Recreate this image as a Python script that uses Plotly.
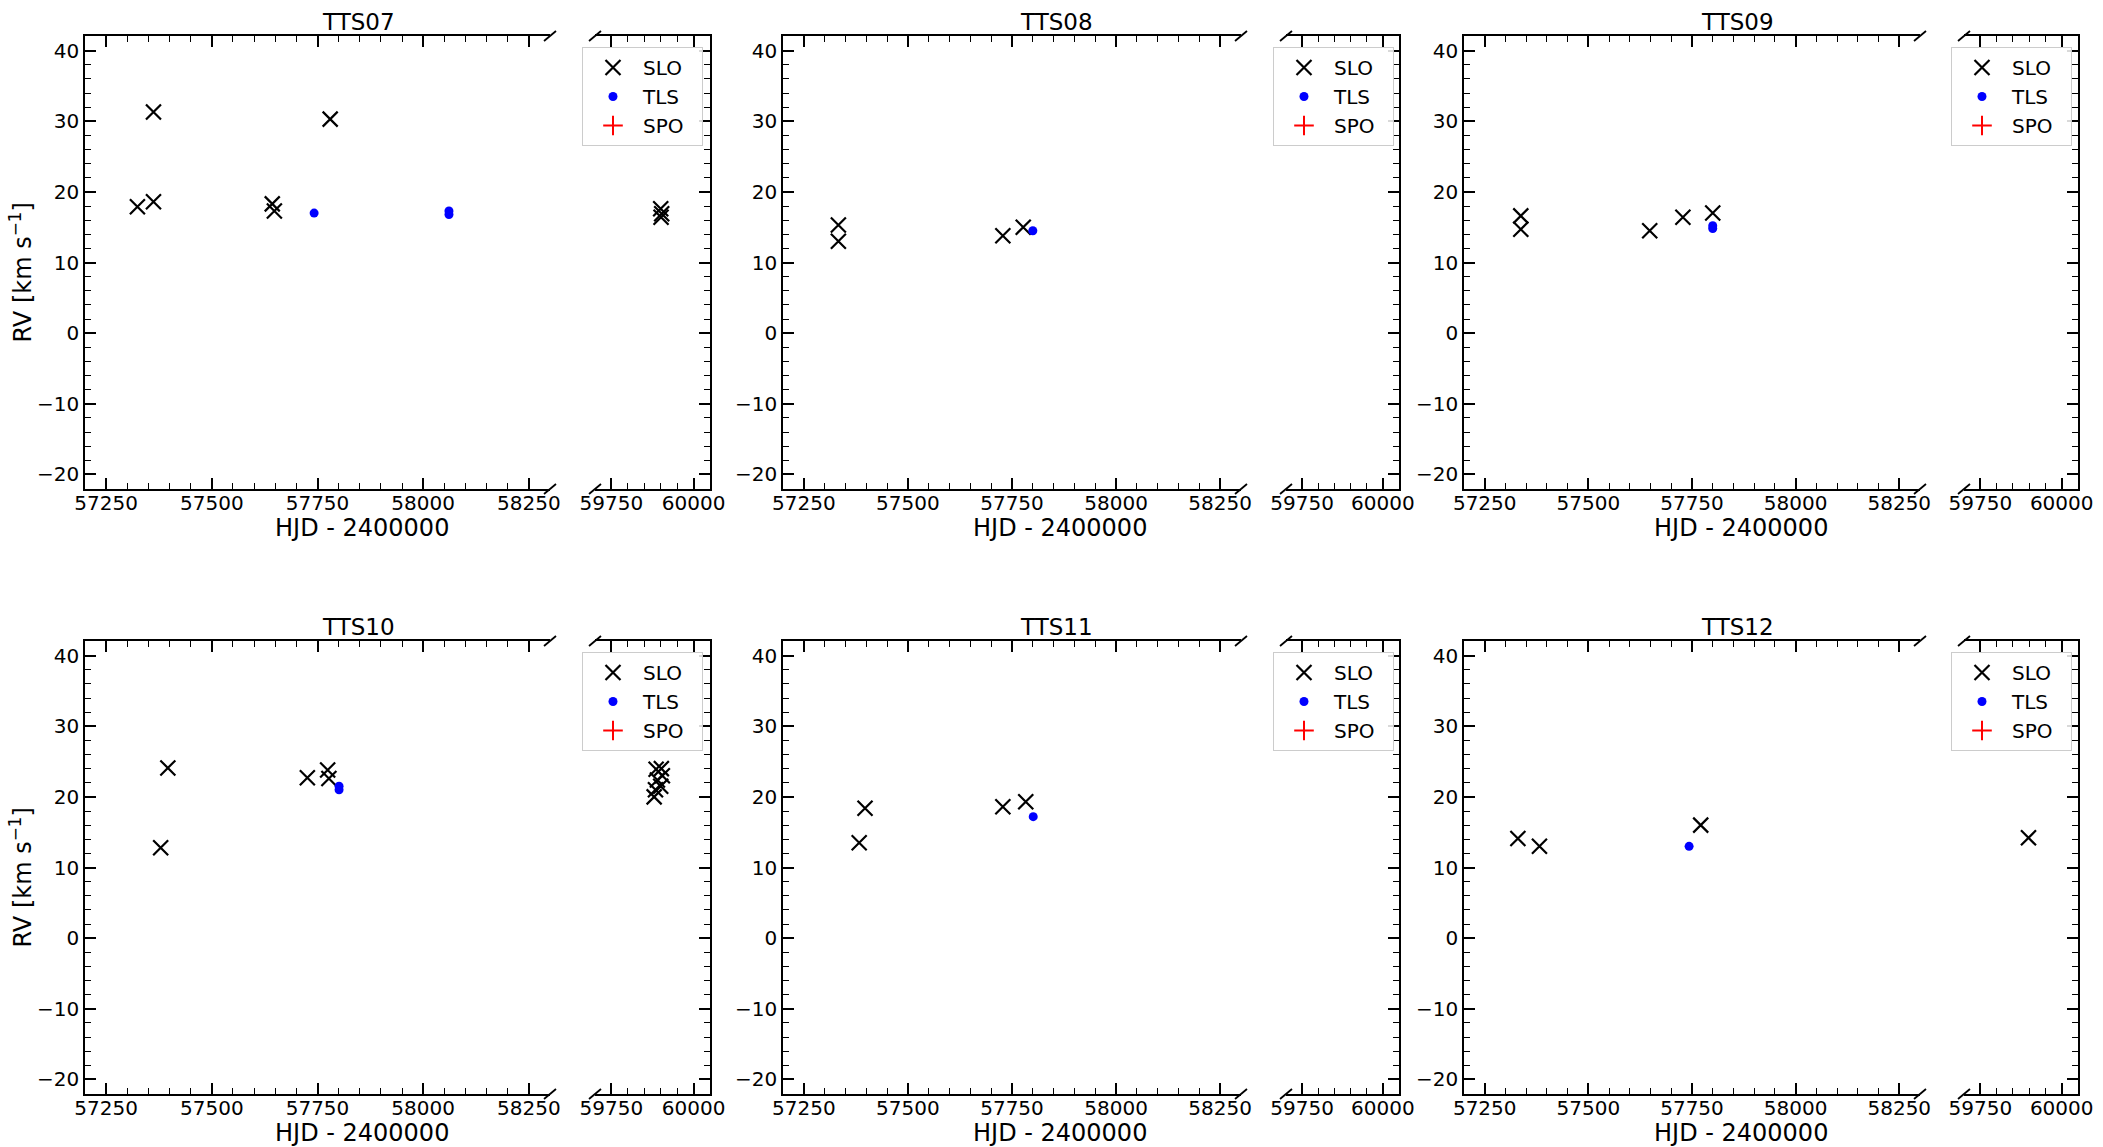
import plotly.graph_objects as go

# ---------------- data ----------------
STARS = ["TTS07", "TTS08", "TTS09", "TTS10", "TTS11", "TTS12"]

TTS07_SLO_HJD = [57324, 57362, 57362, 57643, 57648, 57780, 59900, 59903, 59901]
TTS07_SLO_RV = [17.9, 18.6, 31.3, 18.3, 17.3, 30.3, 17.6, 16.9, 16.4]
TTS07_TLS_HJD = [57742, 58061, 58061]
TTS07_TLS_RV = [17.0, 16.8, 17.3]

TTS08_SLO_HJD = [57333, 57333, 57728, 57777]
TTS08_SLO_RV = [15.3, 13.0, 13.8, 15.0]
TTS08_TLS_HJD = [57800]
TTS08_TLS_RV = [14.5]

TTS09_SLO_HJD = [57337, 57337, 57648, 57728, 57800]
TTS09_SLO_RV = [16.6, 14.7, 14.5, 16.4, 17.0]
TTS09_TLS_HJD = [57800, 57800]
TTS09_TLS_RV = [15.2, 14.8]

TTS10_SLO_HJD = [57379, 57396, 57726, 57774, 57777,
                 59880, 59884, 59890, 59886, 59902, 59905, 59900]
TTS10_SLO_RV = [12.8, 24.1, 22.7, 23.8, 22.6,
                20.0, 21.0, 22.4, 23.9, 24.0, 23.0, 21.5]
TTS10_TLS_HJD = [57801, 57801]
TTS10_TLS_RV = [21.0, 21.5]

TTS11_SLO_HJD = [57383, 57397, 57728, 57783]
TTS11_SLO_RV = [13.5, 18.4, 18.6, 19.3]
TTS11_TLS_HJD = [57801]
TTS11_TLS_RV = [17.2]

TTS12_SLO_HJD = [57330, 57382, 57771, 59898]
TTS12_SLO_RV = [14.1, 13.0, 16.0, 14.2]
TTS12_TLS_HJD = [57743]
TTS12_TLS_RV = [13.0]

# SPO has no measurements for these stars (legend entry only)
SPO_HJD = [None]
SPO_RV = [None]

LEGEND_NAMES = ["SLO", "TLS", "SPO"]

LEFT_RANGE = [57200, 58300]
RIGHT_RANGE = [59700, 60050]
Y_RANGE = [-22.07, 42.07]
X_TICK0_LEFT = 57250
X_TICK0_RIGHT = 59750
BREAK_HJD = 59000

SLO = {
    "TTS07": (TTS07_SLO_HJD, TTS07_SLO_RV), "TTS08": (TTS08_SLO_HJD, TTS08_SLO_RV),
    "TTS09": (TTS09_SLO_HJD, TTS09_SLO_RV), "TTS10": (TTS10_SLO_HJD, TTS10_SLO_RV),
    "TTS11": (TTS11_SLO_HJD, TTS11_SLO_RV), "TTS12": (TTS12_SLO_HJD, TTS12_SLO_RV),
}
TLS = {
    "TTS07": (TTS07_TLS_HJD, TTS07_TLS_RV), "TTS08": (TTS08_TLS_HJD, TTS08_TLS_RV),
    "TTS09": (TTS09_TLS_HJD, TTS09_TLS_RV), "TTS10": (TTS10_TLS_HJD, TTS10_TLS_RV),
    "TTS11": (TTS11_TLS_HJD, TTS11_TLS_RV), "TTS12": (TTS12_TLS_HJD, TTS12_TLS_RV),
}

# ---------------- layout geometry (pixels) ----------------
W, H = 2103, 1147
FONT = "DejaVu Sans"
COLS = [(85, 550, 595, 710), (783, 1241, 1286, 1399), (1464, 1920, 1964, 2078)]
ROWS = [(36, 489), (641, 1094)]
PAD = "\u00a0\u00a0"  # right padding inside the legend box


def px(x):
    return x / W


def py(y):
    return 1 - y / H


def split(xs, ys, left=True):
    pts = [(x, y) for x, y in zip(xs, ys) if (x < BREAK_HJD) == left]
    return [p[0] for p in pts], [p[1] for p in pts]


fig = go.Figure()
layout = dict(
    width=W, height=H, template="none",
    margin=dict(l=0, r=0, t=0, b=0),
    paper_bgcolor="white", plot_bgcolor="white",
    font=dict(family=FONT, color="black"),
)
shapes = []
annotations = []

tick_common = dict(
    ticks="inside", ticklen=11, tickwidth=1.6, tickcolor="black",
    showline=True, linecolor="black", linewidth=1.6,
    showgrid=False, zeroline=False, automargin=False, fixedrange=True,
    tickfont=dict(family=FONT, size=20, color="black"),
)

for p, star in enumerate(STARS):
    r, c = divmod(p, 3)
    L, B1, B2, R = COLS[c]
    T, Bt = ROWS[r]
    nl, nr = 2 * p + 1, 2 * p + 2
    xl_key = "xaxis" if nl == 1 else f"xaxis{nl}"
    yl_key = "yaxis" if nl == 1 else f"yaxis{nl}"
    xr_key, yr_key = f"xaxis{nr}", f"yaxis{nr}"
    xl_ref = "x" if nl == 1 else f"x{nl}"
    yl_ref = "y" if nl == 1 else f"y{nl}"
    xr_ref, yr_ref = f"x{nr}", f"y{nr}"
    leg = "legend" if p == 0 else f"legend{p + 1}"
    ydom = [py(Bt), py(T)]

    xminor = dict(ticks="inside", ticklen=6, tickwidth=1.3, tickcolor="black",
                  dtick=50, showgrid=False)
    yminor = dict(ticks="inside", ticklen=6, tickwidth=1.3, tickcolor="black",
                  dtick=2, showgrid=False)

    layout[xl_key] = dict(domain=[px(L), px(B1)], range=LEFT_RANGE, tick0=X_TICK0_LEFT,
                          dtick=250, anchor=yl_ref, mirror="ticks", tickformat="d",
                          ticklabelstandoff=-5, minor=xminor, **tick_common)
    layout[xr_key] = dict(domain=[px(B2), px(R)], range=RIGHT_RANGE, tick0=X_TICK0_RIGHT,
                          dtick=250, anchor=yr_ref, mirror="ticks", tickformat="d",
                          ticklabelstandoff=-5, minor=xminor, **tick_common)
    layout[yl_key] = dict(domain=ydom, range=Y_RANGE, tick0=0, dtick=10, anchor=xl_ref,
                          side="left", showticklabels=True, minor=yminor, **tick_common)
    layout[yr_key] = dict(domain=ydom, range=Y_RANGE, tick0=0, dtick=10, anchor=xr_ref,
                          side="right", showticklabels=False, minor=yminor, **tick_common)

    sx, sy = SLO[star]
    tx, ty = TLS[star]
    slo_marker = dict(symbol="x-thin", size=15, color="black",
                      line=dict(color="black", width=2.2))
    tls_marker = dict(symbol="circle", size=9, color="blue", line=dict(width=0))
    spo_marker = dict(symbol="cross-thin", size=14, color="red",
                      line=dict(color="red", width=2))

    lx, ly = split(sx, sy, True)
    fig.add_trace(go.Scatter(x=lx, y=ly, mode="markers", name=LEGEND_NAMES[0] + PAD,
                             marker=slo_marker, xaxis=xl_ref, yaxis=yl_ref, legend=leg,
                             showlegend=True))
    lx, ly = split(tx, ty, True)
    fig.add_trace(go.Scatter(x=lx, y=ly, mode="markers", name=LEGEND_NAMES[1] + PAD,
                             marker=tls_marker, xaxis=xl_ref, yaxis=yl_ref, legend=leg,
                             showlegend=True))
    fig.add_trace(go.Scatter(x=SPO_HJD, y=SPO_RV, mode="markers",
                             name=LEGEND_NAMES[2] + PAD, marker=spo_marker,
                             xaxis=xl_ref, yaxis=yl_ref, legend=leg, showlegend=True))
    rx, ry = split(sx, sy, False)
    fig.add_trace(go.Scatter(x=rx, y=ry, mode="markers", name=LEGEND_NAMES[0],
                             marker=slo_marker, xaxis=xr_ref, yaxis=yr_ref, legend=leg,
                             showlegend=False))
    rx, ry = split(tx, ty, False)
    fig.add_trace(go.Scatter(x=rx, y=ry, mode="markers", name=LEGEND_NAMES[1],
                             marker=tls_marker, xaxis=xr_ref, yaxis=yr_ref, legend=leg,
                             showlegend=False))

    layout[leg] = dict(
        x=px(B2 - 13), y=py(T + 11), xanchor="left", yanchor="top",
        bgcolor="rgba(255,255,255,0.85)", bordercolor="#cccccc", borderwidth=1,
        font=dict(family=FONT, size=20, color="black"), itemwidth=50,
        tracegroupgap=0, traceorder="normal",
    )

    # broken-axis diagonal marks
    for bx in (B1, B2):
        for by in (T, Bt):
            shapes.append(dict(type="line", xref="paper", yref="paper",
                               x0=px(bx - 6), y0=py(by + 5), x1=px(bx + 6), y1=py(by - 5),
                               line=dict(color="black", width=1.8)))

    annotations.append(dict(text=star, x=px(L + 273), y=py(T - 14), xref="paper",
                            yref="paper", showarrow=False, xanchor="center",
                            yanchor="middle", font=dict(family=FONT, size=23, color="black")))
    annotations.append(dict(text="HJD - 2400000", x=px(L + 277), y=py(Bt + 39),
                            xref="paper", yref="paper", showarrow=False, xanchor="center",
                            yanchor="middle", font=dict(family=FONT, size=24, color="black")))
    if c == 0:
        annotations.append(dict(text="RV [km s<sup>−1</sup>]", x=px(20),
                                y=py((T + Bt) / 2 + 10), xref="paper", yref="paper",
                                showarrow=False, textangle=-90, xanchor="center",
                                yanchor="middle",
                                font=dict(family=FONT, size=24, color="black")))

layout["shapes"] = shapes
layout["annotations"] = annotations
fig.update_layout(**layout)
fig.write_html("out.html")
